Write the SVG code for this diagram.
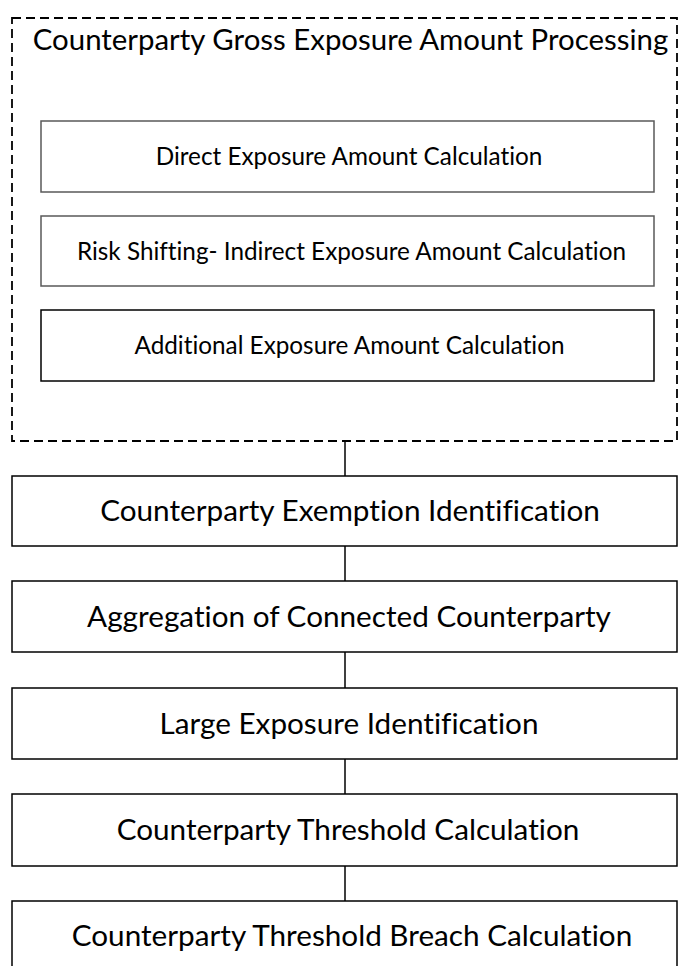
<svg xmlns="http://www.w3.org/2000/svg" width="679" height="966" viewBox="0 0 679 966">
<style>
.box{fill:#fff;stroke:#000;stroke-width:1.5}
.inner{fill:#fff;stroke:#595959;stroke-width:1.5}
.inner3{fill:#fff;stroke:#000;stroke-width:1.5}
.group{fill:none;stroke:#000;stroke-width:1.8;stroke-dasharray:9 5}
.conn{stroke:#000;stroke-width:1.5;fill:none}
.t{font-family:Lato,"Liberation Sans",sans-serif;fill:#000;text-anchor:middle;font-variant-ligatures:none}
.big{font-size:29.7px}
.title{font-size:29.4px}
.small{font-size:24.3px}
</style>
<rect width="679" height="966" fill="#fff"/>
<g id="group-gross">
<rect class="group" x="12" y="18" width="665" height="423"/>
<text class="t title" x="350.5" y="50">Counterparty Gross Exposure Amount Processing</text>
</g>
<g id="direct">
<rect class="inner" x="41" y="121" width="613" height="71"/>
<text class="t small" x="349" y="165">Direct Exposure Amount Calculation</text>
</g>
<g id="indirect">
<rect class="inner" x="41" y="216" width="613" height="70"/>
<text class="t small" x="351.5" y="260">Risk Shifting- Indirect Exposure Amount Calculation</text>
</g>
<g id="additional">
<rect class="inner3" x="41" y="310" width="613" height="71"/>
<text class="t small" x="349.5" y="354">Additional Exposure Amount Calculation</text>
</g>
<g id="connectors">
<line class="conn" x1="345" y1="441" x2="345" y2="476"/>
<line class="conn" x1="345" y1="546" x2="345" y2="581"/>
<line class="conn" x1="345" y1="652" x2="345" y2="688"/>
<line class="conn" x1="345" y1="759" x2="345" y2="794"/>
<line class="conn" x1="345" y1="866" x2="345" y2="901"/>
</g>
<g id="exemption">
<rect class="box" x="12" y="476" width="665" height="70"/>
<text class="t big" x="350" y="521">Counterparty Exemption Identification</text>
</g>
<g id="aggregation">
<rect class="box" x="12" y="581" width="665" height="71"/>
<text class="t big" x="349" y="627">Aggregation of Connected Counterparty</text>
</g>
<g id="large">
<rect class="box" x="12" y="688" width="665" height="71"/>
<text class="t big" x="349" y="734">Large Exposure Identification</text>
</g>
<g id="threshold">
<rect class="box" x="12" y="794" width="665" height="72"/>
<text class="t big" x="348" y="840">Counterparty Threshold Calculation</text>
</g>
<g id="breach">
<rect class="box" x="12" y="901" width="665" height="75"/>
<text class="t big" x="352" y="946">Counterparty Threshold Breach Calculation</text>
</g>
</svg>
